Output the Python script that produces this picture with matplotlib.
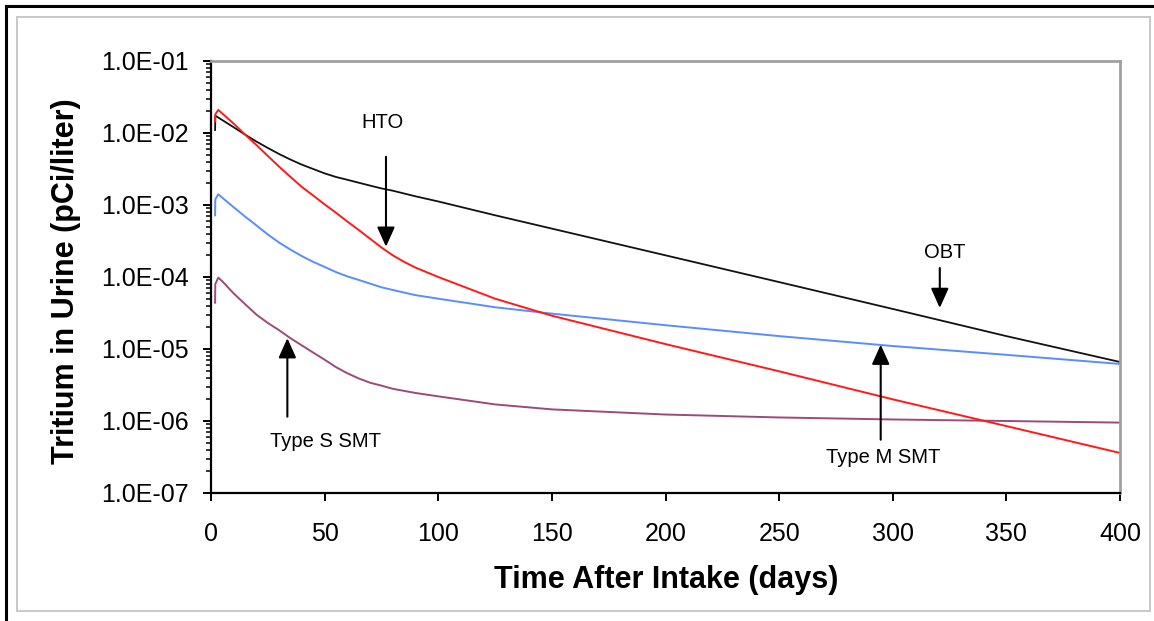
import matplotlib
matplotlib.use("Agg")
import matplotlib.pyplot as plt
from matplotlib.lines import Line2D
from matplotlib.patches import Rectangle
from matplotlib.ticker import LogLocator, NullFormatter, FixedLocator

plt.rcParams['font.family'] = ['Liberation Sans', 'DejaVu Sans']

# ---- data (pCi/liter vs days) ----
days_hto = [1.8, 1.9, 3.2, 5, 10, 15, 20, 25, 30, 35, 40, 45, 50, 55, 60, 65, 70, 75, 80, 85, 90,
            100, 125, 150, 200, 250, 300, 350, 400]
hto = [1.45e-2, 1.82e-2, 2.09e-2, 1.86e-2, 1.35e-2, 9.5e-3, 6.8e-3, 4.8e-3, 3.4e-3, 2.45e-3,
       1.78e-3, 1.35e-3, 1.02e-3, 7.8e-4, 5.9e-4, 4.5e-4, 3.4e-4, 2.57e-4, 2.0e-4, 1.62e-4,
       1.35e-4, 1.0e-4, 5.0e-5, 2.9e-5, 1.17e-5, 4.9e-6, 2.0e-6, 8.5e-7, 3.6e-7]

days_obt = [1.8, 1.9, 5, 10, 15, 20, 25, 30, 35, 40, 45, 50, 55, 60, 65, 70, 75, 80, 90, 100,
            125, 150, 200, 250, 300, 350, 400]
obt = [1.10e-2, 1.74e-2, 1.51e-2, 1.20e-2, 9.5e-3, 7.6e-3, 6.2e-3, 5.1e-3, 4.27e-3, 3.63e-3,
       3.16e-3, 2.75e-3, 2.45e-3, 2.24e-3, 2.04e-3, 1.86e-3, 1.70e-3, 1.58e-3, 1.32e-3, 1.12e-3,
       7.2e-4, 4.7e-4, 2.0e-4, 8.5e-5, 3.6e-5, 1.51e-5, 6.6e-6]

days_m = [1.8, 1.9, 3.2, 5, 10, 15, 20, 25, 30, 35, 40, 45, 50, 55, 60, 65, 70, 75, 80, 90,
          100, 125, 150, 200, 250, 300, 350, 400]
type_m = [7.2e-4, 1.2e-3, 1.41e-3, 1.26e-3, 9.3e-4, 6.9e-4, 5.2e-4, 3.9e-4, 3.0e-4, 2.4e-4,
          1.95e-4, 1.62e-4, 1.38e-4, 1.17e-4, 1.02e-4, 9.1e-5, 8.1e-5, 7.2e-5, 6.6e-5, 5.6e-5,
          5.0e-5, 3.8e-5, 3.1e-5, 2.14e-5, 1.51e-5, 1.10e-5, 8.3e-6, 6.2e-6]

days_s = [1.8, 1.9, 3.2, 5, 10, 15, 20, 25, 30, 35, 40, 45, 50, 55, 60, 65, 70, 75, 80, 90,
          100, 125, 150, 200, 250, 300, 350, 400]
type_s = [4.4e-5, 8.0e-5, 9.8e-5, 8.7e-5, 5.9e-5, 4.2e-5, 3.0e-5, 2.3e-5, 1.82e-5, 1.41e-5,
          1.12e-5, 8.9e-6, 7.1e-6, 5.6e-6, 4.6e-6, 3.9e-6, 3.4e-6, 3.1e-6, 2.8e-6, 2.45e-6,
          2.2e-6, 1.70e-6, 1.45e-6, 1.23e-6, 1.12e-6, 1.05e-6, 1.0e-6, 9.5e-7]

x_ticks = [0, 50, 100, 150, 200, 250, 300, 350, 400]
y_ticks = [1e-7, 1e-6, 1e-5, 1e-4, 1e-3, 1e-2, 1e-1]
y_tick_labels = ["1.0E-07", "1.0E-06", "1.0E-05", "1.0E-04", "1.0E-03", "1.0E-02", "1.0E-01"]

W, H = 1154, 621
fig = plt.figure(figsize=(W / 100, H / 100), dpi=100)
fig.patch.set_facecolor('white')

# outer frame lines (black at left/top) and inner gray border
fig.add_artist(Line2D([6 / W, 6 / W], [0, 1 - 6 / H], transform=fig.transFigure,
                      color='black', lw=2.2))
fig.add_artist(Line2D([6 / W, 1], [1 - 6 / H, 1 - 6 / H], transform=fig.transFigure,
                      color='black', lw=2.2))
fig.add_artist(Rectangle((16.5 / W, 1 - 611 / H), (1150 - 16.5) / W, (611 - 16.5) / H,
                         transform=fig.transFigure, fill=False, edgecolor='#c8c8c8', lw=1.4))

ax = fig.add_axes([211 / W, 1 - 493 / H, (1120 - 211) / W, (493 - 61) / H])

ax.plot(days_obt, obt, color='#111111', lw=1.3)
ax.plot(days_m, type_m, color='#5b8cff', lw=1.4)
ax.plot(days_s, type_s, color='#9c4a7a', lw=1.4)
ax.plot(days_hto, hto, color='#ff1a1a', lw=1.4)

ax.set_yscale('log')
ax.set_xlim(0, 400)
ax.set_ylim(1e-7, 1e-1)

ax.xaxis.set_major_locator(FixedLocator(x_ticks))
ax.set_xticklabels([str(v) for v in x_ticks])
ax.yaxis.set_major_locator(FixedLocator(y_ticks))
ax.set_yticklabels(y_tick_labels)
ax.yaxis.set_minor_locator(LogLocator(base=10, subs=range(2, 10), numticks=20))
ax.yaxis.set_minor_formatter(NullFormatter())

ax.tick_params(axis='both', which='major', direction='out', length=6, width=1.4,
               labelsize=18, colors='black')
ax.tick_params(axis='y', which='minor', direction='out', length=3.5, width=1.1)
ax.tick_params(axis='x', which='major', pad=15)
ax.tick_params(axis='y', which='major', pad=10)

for s in ['left', 'bottom']:
    ax.spines[s].set_color('black')
    ax.spines[s].set_linewidth(1.6)
for s in ['top', 'right']:
    ax.spines[s].set_color('#a0a0a0')
    ax.spines[s].set_linewidth(2.0)

fig.text(666 / W, 1 - 580 / H, "Time After Intake (days)", ha='center', va='center',
         fontsize=22, fontweight='bold')
fig.text(66 / W, 1 - 281 / H, "Tritium in Urine (pCi/liter)", ha='center', va='center',
         rotation=90, fontsize=22, fontweight='bold')

arrow_kw = dict(arrowstyle='-|>,head_length=0.6,head_width=0.27', mutation_scale=20,
                lw=1.5, color='black', shrinkA=0, shrinkB=0)

ax.text(75.5, 10 ** -1.854, "HTO", ha='center', va='center', fontsize=14.5)
ax.annotate("", xy=(77.0, 10 ** -3.58), xytext=(77.0, 10 ** -2.33), arrowprops=arrow_kw)

ax.text(323, 10 ** -3.66, "OBT", ha='center', va='center', fontsize=14.5)
ax.annotate("", xy=(320.7, 10 ** -4.43), xytext=(320.7, 10 ** -3.875), arrowprops=arrow_kw)

ax.text(295.7, 10 ** -6.51, "Type M SMT", ha='center', va='center', fontsize=14.5)
ax.annotate("", xy=(294.7, 10 ** -4.94), xytext=(294.7, 10 ** -6.26), arrowprops=arrow_kw)

ax.text(50.6, 10 ** -6.28, "Type S SMT", ha='center', va='center', fontsize=14.5)
ax.annotate("", xy=(33.6, 10 ** -4.85), xytext=(33.6, 10 ** -5.94), arrowprops=arrow_kw)

fig.savefig("out.png", dpi=100, facecolor='white')
